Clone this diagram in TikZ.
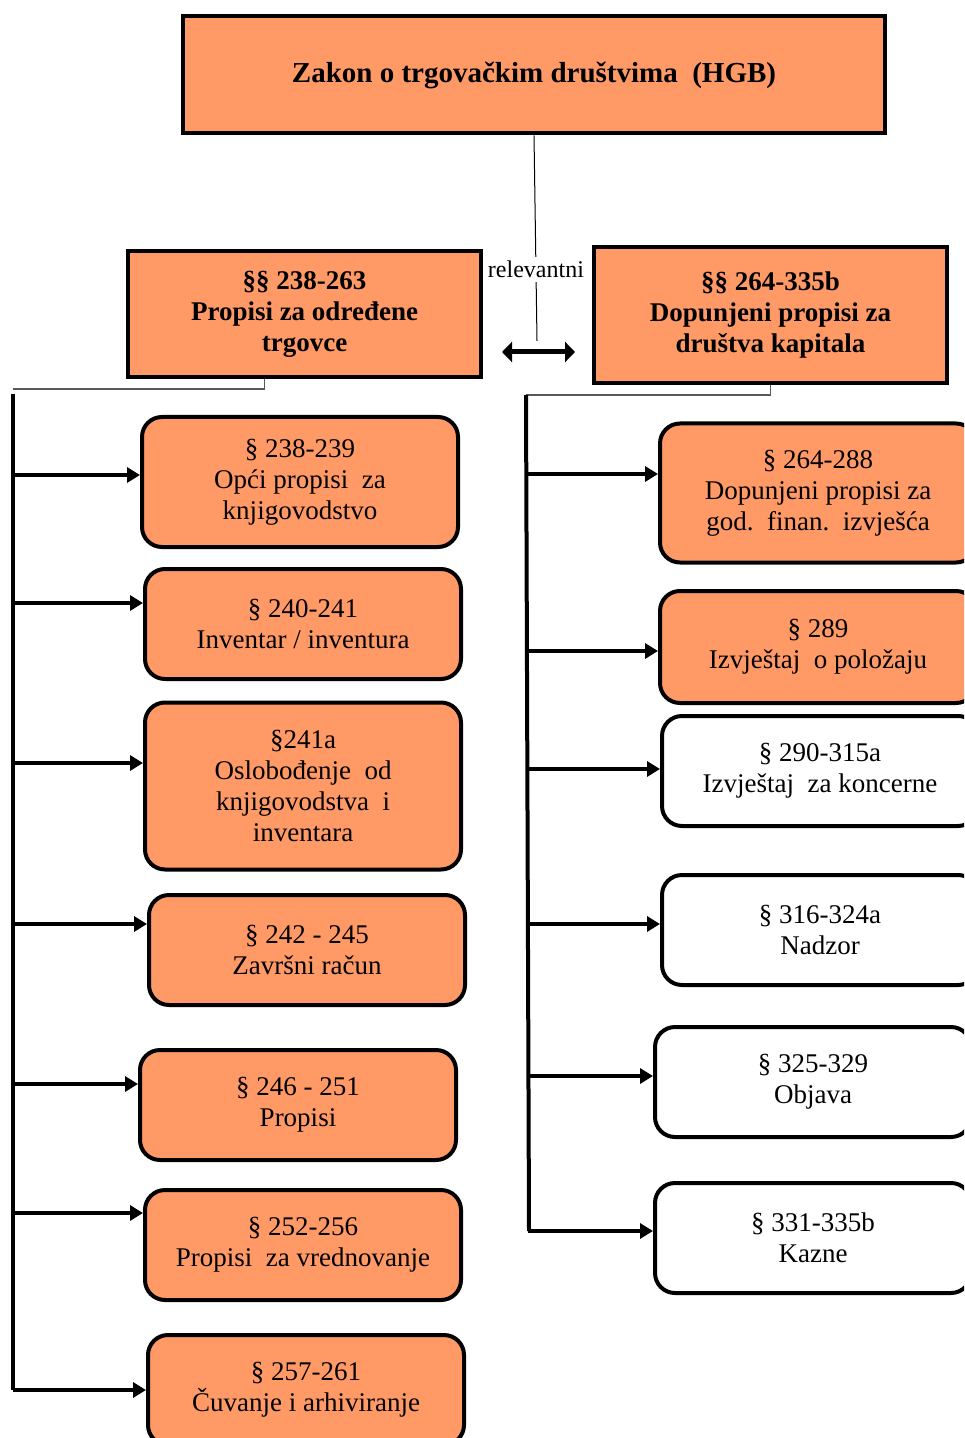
\documentclass[tikz,border=0pt]{standalone}
\usepackage{fontspec}
\setmainfont{Liberation Serif}
\usetikzlibrary{arrows.meta}
\definecolor{boxorange}{RGB}{255,153,102}
\tikzset{
  headbox/.style={draw, line width=2pt, fill=boxorange, align=center, inner sep=0pt,
    font=\bfseries\fontsize{13.5}{15.5}\selectfont},
  parabox/.style={draw, line width=2pt, rounded corners=10pt, align=center, inner sep=0pt,
    minimum width=158pt, font=\fontsize{13.5}{15.5}\selectfont},
  orangepara/.style={parabox, fill=boxorange},
  whitepara/.style={parabox, fill=white},
  feed/.style={line width=2pt, -{Triangle[length=6.5pt,width=7.5pt]}},
  trunk/.style={line width=2pt},
  fork/.style={line width=0.8pt, gray!70!black},
}
\begin{document}
\begin{tikzpicture}[x=0.5pt,y=-0.5pt]
\useasboundingbox (0,0) rectangle (964,1438);
\clip (0,0) rectangle (964,1438);

% headers
\node[headbox, minimum width=351pt, minimum height=58.5pt, font=\bfseries\fontsize{14.5}{16.5}\selectfont] (hgb) at (534,75)
  {Zakon o trgovačkim društvima\ \ (HGB)};
\node[headbox, minimum width=176.5pt, minimum height=63pt] (lhead) at (304.5,314)
  {§§ 238-263\\Propisi za određene\\trgovce};
\node[headbox, minimum width=176.5pt, minimum height=68pt] (rhead) at (770.5,315)
  {§§ 264-335b\\Dopunjeni propisi za\\društva kapitala};

% relevantni
\coordinate (relend) at (537,341);
\coordinate (relL) at (502,352);
\coordinate (relR) at (575,352);
\draw[line width=0.5pt] (hgb.south) -- node[pos=0.65, fill=white, inner sep=2pt,
  font=\fontsize{12}{14}\selectfont] (rel) {relevantni} (relend);
\draw[line width=2.5pt, {Triangle[length=5pt,width=10pt]}-{Triangle[length=5pt,width=10pt]}] (relL) -- (relR);

% left column
\node[orangepara, minimum height=65pt] (l1) at (300,482) {§ 238-239\\Opći propisi\ \ za\\knjigovodstvo};
\node[orangepara, minimum height=55pt] (l2) at (303,624) {§ 240-241\\Inventar / inventura};
\node[orangepara, minimum height=83.5pt] (l3) at (303,786) {§241a\\Oslobođenje\ \ od\\knjigovodstva\ \ i\\inventara};
\node[orangepara, minimum height=55pt] (l4) at (307,950) {§ 242 - 245\\Završni račun};
\node[orangepara, minimum height=55pt] (l5) at (298,1105) {§ 246 - 251\\Propisi};
\node[orangepara, minimum height=55pt] (l6) at (303,1245) {§ 252-256\\Propisi\ \ za vrednovanje};
\node[orangepara, minimum height=55pt] (l7) at (306,1390) {§ 257-261\\Čuvanje i arhiviranje};

% right column
\node[orangepara, minimum height=69.5pt] (r1) at (818,493) {§ 264-288\\Dopunjeni propisi za\\god.\ \ finan.\ \ izvješća};
\node[orangepara, minimum height=56pt] (r2) at (818,647) {§ 289\\Izvještaj\ \ o položaju};
\node[whitepara, minimum height=55pt] (r3) at (820,771) {§ 290-315a\\Izvještaj\ \ za koncerne};
\node[whitepara, minimum height=55pt] (r4) at (820,930) {§ 316-324a\\Nadzor};
\node[whitepara, minimum height=55pt] (r5) at (813,1082) {§ 325-329\\Objava};
\node[whitepara, minimum height=55pt] (r6) at (813,1238) {§ 331-335b\\Kazne};

% left tree
\coordinate (lfork) at (13,389);
\coordinate (ltop) at (13,394);
\draw[fork] ([xshift=-20pt]lhead.south) |- (lfork);
\draw[trunk] (ltop) -- (13,1390);
\foreach \b/\y in {l1/475, l2/603, l3/763, l4/924, l5/1084, l6/1213, l7/1390}
  \draw[feed] (13,\y) -- (\b.west |- 0,\y);

% right tree
\coordinate (rfork) at (526,395);
\draw[fork] (rhead.south) |- (rfork);
\draw[trunk] (rfork) -- (529,1231);
\foreach \b/\y in {r1/474, r2/651, r3/769, r4/924, r5/1076, r6/1231}
  \draw[feed] (528,\y) -- (\b.west |- 0,\y);
\end{tikzpicture}
\end{document}
